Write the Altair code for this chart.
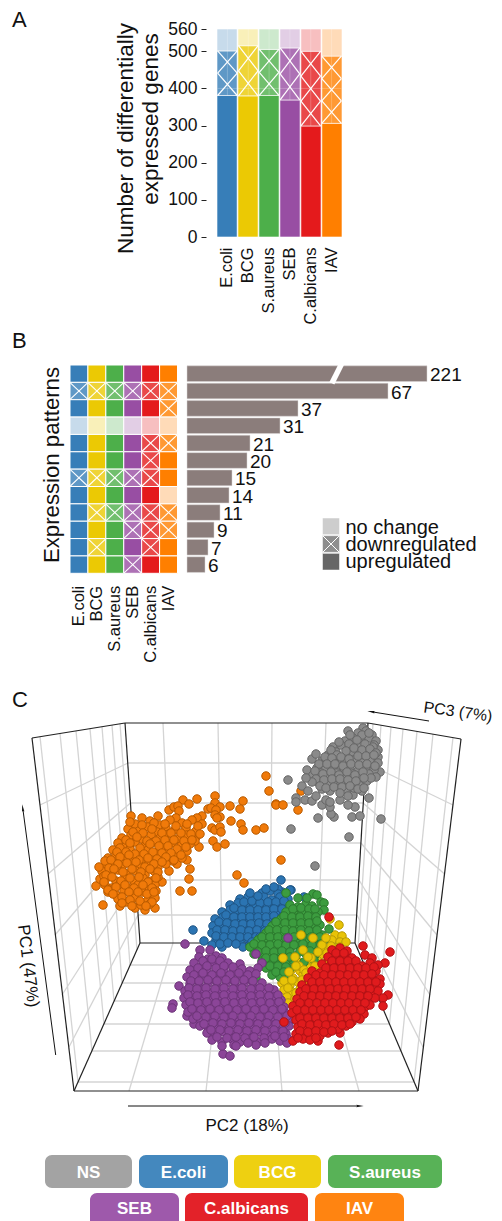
import altair as alt
import pandas as pd

FONT = "Liberation Sans"
CONDITIONS = ["E.coli", "BCG", "S.aureus", "SEB", "C.albicans", "IAV"]
COLORS = ["#377EB8", "#EBC904", "#4DAF4A", "#984EA3", "#E41A1C", "#FF7F00"]

# Panel A
UP = [381, 380, 381, 369, 299, 306]
DOWN = [120, 135, 124, 140, 201, 181]
NOCHANGE = [59, 45, 55, 51, 60, 73]
Y_TICKS = [0, 100, 200, 300, 400, 500, 560]
HATCH_CELLS = [2, 2, 2, 2, 3, 3]

# Panel B
PATTERNS = ["UUUUUU", "DDDDDD", "UUUUUD", "NNNNNN", "UUUUDD", "UUUUDU",
            "DDDDDU", "UUUUUN", "UDDDDD", "UUUDDD", "UDUUDU", "UUUDUU"]
COUNTS = [221, 67, 37, 31, 21, 20, 15, 14, 11, 9, 7, 6]
LEGEND_STATES = ["no change", "downregulated", "upregulated"]
LEGEND_FILLS = ["#CDCDCD", "#8E8E8E", "#666666"]

# Panel C: projected coordinates of the 3D box
BOX = [(32,738,125,723),(125,723,368,723),(368,723,461,739),(32,738,74,1091),(125,723,140,943),
       (368,723,355,943),(461,739,418,1091),(74,1091,418,1091),(74,1091,140,943),(140,943,355,943),(355,943,418,1091)]
GRID = [(163,723,173,943),(218,723,222,943),(272,723,270,943),(326,723,318,943),
        (128,763,366,763),(130.5,803,363,803),(133,843,361,843),(136,880,359,880),(138,915,357,915),
        (128,763,40,805),(130.5,803,48,874),(133,843,55,935),(136,880,62,995),(138,915,69,1047),
        (366,763,453,805),(363,803,444.5,874),(361,843,437,935),(359,880,430,995),(357,915,423,1047),
        (40,736.7,78,1082),(60,733.5,92,1051),(76,730.9,104,1024),(90,728.6,114,1001),(102,726.7,122,983),(112,725.1,130,965),(120,723.8,137,950),
        (453,737.6,414,1082),(433,734,401,1051),(417,731.4,389.5,1024),(403,729,380,1001),(391,727,372,983),(381,725.2,364,965),(373,723.9,358,950),
        (130,965,364,965),(122,983,372,983),(114,1001,380,1001),(104,1024,389.5,1024),(92,1051,401,1051),(78,1082,414,1082),
        (129,1091,173,943),(206,1091,222,943),(282,1091,270,943),(359,1091,318,943)]
ARROWS = [(429,721,373,712),(55.7,1055,23,810),(128,1106,358,1106)]
ARROW_TIPS = [(371,711.7,279),(22.7,808,352),(360,1106,90)]

IAV = [(266,776),(269,791),(276,804),(215,796),(197,799),(183,800),(189,804),(215,803),(243,801),(240,809),(230,806),
(220,807),(208,809),(211,808),(216,810),(215,815),(220,817),(217,818),(202,816),(197,818),(202,824),(231,821),(241,824),(243,830),
(256,830),(264,828),(212,828),(215,830),(220,827),(221,832),(213,841),(217,847),(225,844),(237,875),(244,883),(189,879),(190,869),
(180,891),(192,891),(162,882),(169,871),(155,908),(145,910),(103,905),(96,886),(177,864),(173,861),(187,860),(182,858),(199,847),
(196,837),(131,816),(142,818),(158,816),(169,810),(174,807),(178,806),(179,811),(176,818),(301,791),(298,810),(276,805),(283,805),
(316,776),(281,860),
(135,824),(150,821),(160,825),(170,820),(182,823),(192,820),(128,829),(139,831),(148,827),(157,832),(166,828),(175,830),(186,828),(196,831),
(122,838),(131,835),(142,839),(151,835),(160,838),(169,834),(178,839),(187,835),(195,841),(118,843),(126,846),(135,842),(145,846),(154,842),
(163,847),(172,843),(181,846),(190,844),(113,850),(122,853),(130,849),(139,853),(148,850),(157,854),(166,850),(176,853),(187,851),(108,858),
(116,855),(125,860),(134,856),(143,859),(152,856),(161,860),(170,856),(106,866),(113,863),(122,867),(131,863),(140,866),(149,862),(158,867),
(166,864),(102,871),(110,874),(118,870),(127,874),(136,871),(145,875),(154,871),(100,879),(108,877),(116,881),(125,878),(134,881),(143,878),
(152,881),(158,877),(105,885),(112,888),(120,884),(129,888),(138,885),(147,888),(155,885),(108,892),(116,895),(124,891),(133,895),(142,892),
(150,895),(156,891),(118,899),(126,902),(135,898),(147,901),(155,898),(120,906),(135,908),(141,905),(150,904),(111,890),(104,876),(99,867),(105,861),
(130,822),(142,825),(154,823),(165,824),(176,826),(187,824),(198,826),(133,832),(143,833),(152,829),(162,833),(171,833),(181,833),(191,834),
(200,834),(126,840),(137,837),(147,841),(156,841),(165,840),(174,840),(184,841),(192,840),(120,848),(130,843),(140,848),(150,844),(159,846),
(168,846),(177,849),(186,847),(117,852),(126,852),(135,854),(144,854),(153,852),(162,853),(171,853),(181,855),(111,860),(120,857),(129,855),
(139,860),(148,858),(157,859),(166,857),(174,860),(109,868),(118,864),(127,863),(136,862),(145,867),(154,864),(162,862),(106,875),(114,869),
(123,872),(132,869),(141,872),(150,869),(158,872),(104,882),(112,877),(121,881),(130,878),(139,877),(148,882),(156,878),(108,890),(116,887),
(125,885),(134,888),(143,885),(152,888),(113,894),(122,897),(129,892),(138,892),(147,894),(154,892),(122,903),(130,900),(140,901),(152,902),(132,906),(146,906)]
NS = [(288,780),(291,829),(318,818),(334,817),(331,814),(352,817),(360,816),(355,807),(348,805),(340,800),(369,798),(381,819),(305,800),
(296,798),(296,802),(312,801),(322,805),(330,807),(326,800),(330,802),(302,786),(308,791),(316,796),(307,770),(312,759),(316,754),(348,731),
(363,728),(380,772),(353,795),(360,788),(315,866),(349,837),
(358,733),(366,731),(372,735),(345,741),(353,738),(361,742),(369,738),(376,741),(333,747),(341,745),(350,749),(358,745),(366,749),(374,745),
(378,750),(328,755),(336,752),(345,756),(353,752),(362,756),(370,753),(378,757),(322,761),(330,763),(338,759),(346,763),(354,760),(362,763),
(370,760),(378,763),(317,768),(325,770),(333,766),(341,770),(350,767),(358,771),(366,767),(374,770),(313,775),(321,773),(329,777),(337,773),
(345,777),(353,774),(361,778),(369,774),(376,777),(318,782),(327,784),(335,780),(343,784),(351,781),(359,785),(367,781),(322,789),(330,791),
(338,787),(346,790),(354,788),(362,791),
(350,735),(362,735),(369,733),(339,742),(349,744),(357,740),(365,744),(373,747),(331,750),(337,755),(346,751),(354,748),(362,750),(370,749),
(376,753),(325,757),(332,758),(341,757),(349,759),(358,756),(366,756),(374,755),(319,764),(327,764),(335,764),(343,766),(351,764),(359,765),
(367,764),(375,766),(315,771),(323,774),(331,772),(339,775),(347,772),(355,775),(363,772),(371,778),(316,779),(324,780),(332,779),(340,779),
(348,780),(356,781),(364,778),(320,786),(326,788),(334,787),(342,787),(350,786),(358,789),(312,782),(306,778),(364,788),(340,793),(348,796)]
ECOLI = [(281,880),(193,930),(291,890),(282,892),(204,941),(304,897),(290,890),(278,889),
(262,893),(270,891),(278,894),(240,899),(248,897),(256,900),(264,897),(272,900),(280,897),(288,899),(230,905),(238,903),(246,907),(254,904),
(262,907),(270,904),(278,907),(286,904),(222,912),(230,910),(238,914),(246,911),(254,914),(262,911),(270,914),(278,911),(286,914),(215,919),
(223,917),(231,921),(239,918),(247,921),(255,918),(263,921),(271,918),(279,921),(213,926),(221,928),(229,925),(237,928),(245,925),(253,928),
(261,925),(269,928),(277,925),(212,933),(220,935),(228,932),(236,935),(244,932),(252,935),(260,932),(268,935),(216,940),(224,942),(232,939),
(240,942),(248,939),(256,942),(212,945),(222,947),(243,947),(250,945),
(244,902),(252,901),(260,903),(268,902),(276,902),(284,901),(234,908),(242,910),(250,910),(258,910),(266,910),(274,909),(282,909),(226,915),
(234,917),(242,917),(250,917),(258,917),(266,917),(274,916),(282,917),(219,922),(227,923),(235,924),(243,924),(251,924),(259,923),(267,924),
(275,922),(217,930),(225,930),(233,931),(241,930),(249,931),(257,930),(265,931),(273,931),(216,936),(224,937),(232,937),(240,937),(248,937),
(256,937),(264,938),(220,944),(228,943),(236,944),(252,942),(260,937),(258,896),(266,889),(250,893),(274,887)]
BCG_UNDER = [(330,919),(339,925),(335,935),(342,936),(332,940),(340,942),(346,942),(336,948),(325,948),(333,950),(340,947),(320,955),(328,957),
(335,955),(298,962),(308,964),(318,961),(326,963),(292,969),(300,971),(310,968),(318,970),(285,976),(293,978),(303,975),(312,977),(282,983),
(290,985),(298,982),(308,984),(284,990),(292,992),(300,989),(287,997),(295,999),(288,1003),(296,1005)]
SAUREUS = [(286,893),(313,894),(317,895),(321,902),(324,903),(324,910),(329,929),
(290,905),(298,907),(306,904),(312,906),(286,912),(294,914),(302,911),(310,914),(318,912),(281,919),(289,921),(297,918),(305,921),(313,918),
(272,926),(280,928),(288,925),(296,928),(304,925),(312,928),(320,925),(266,933),(274,935),(282,932),(290,935),(298,932),(306,935),(314,932),
(322,935),(258,940),(266,942),(274,939),(282,942),(290,939),(298,942),(307,939),(316,942),(325,939),(250,947),(258,949),(266,946),(274,949),
(282,946),(290,949),(299,946),(308,949),(317,946),(254,954),(262,956),(270,953),(278,956),(286,953),(296,956),(305,953),(315,955),(262,961),
(270,963),(278,960),(286,963),(293,960),(304,962),(314,960),(266,968),(274,970),(282,967),(290,969),(272,975),(280,977),(288,974),(256,978),
(293,909),(301,908),(309,909),(315,909),(284,916),(292,917),(300,917),(308,916),(316,917),(276,922),(285,923),(293,923),(301,923),(309,923),
(317,921),(269,930),(277,930),(285,930),(293,931),(301,930),(309,931),(317,930),(262,937),(270,937),(278,937),(286,938),(294,937),(302,937),
(311,937),(320,937),(254,944),(262,945),(270,945),(278,944),(286,945),(294,945),(303,944),(312,945),(321,944),(258,952),(266,951),(274,952),
(282,951),(290,952),(300,951),(310,951),(266,958),(274,958),(282,958),(290,957),(270,966),(278,966),(286,967),(276,972),(284,972),(298,898),(307,898)]
BCG_OVER = [(301,935),(313,938),(322,945),(327,953),(303,950),(295,957),(283,958),(299,966),(311,958),(289,972),(304,970),(315,966),(284,981),
(326,938),(331,946),(318,952),(308,957),(296,966),(306,973),(314,972),(292,980),(302,980),(288,988),(296,993)]
SEB = [(179,986),(173,1004),(172,1008),(187,1016),(194,1024),(223,1054),(230,1056),(185,944),(200,950),(210,950),(288,938),(256,954),(262,963),
(199,957),(208,959),(216,956),(222,958),(194,963),(203,965),(212,962),(220,965),(228,963),(240,964),(190,970),(198,972),(207,969),(216,972),
(224,969),(233,972),(242,969),(250,971),(258,968),(187,977),(195,979),(204,976),(213,979),(222,976),(231,979),(240,976),(249,979),(190,984),
(199,986),(208,983),(217,986),(226,983),(235,986),(244,983),(253,986),(262,983),(185,991),(193,993),(202,990),(211,993),(220,990),(229,993),
(238,990),(247,993),(256,990),(265,993),(274,990),(184,998),(192,1000),(201,997),(210,1000),(219,997),(228,1000),(237,997),(246,1000),(255,997),
(264,1000),(273,997),(281,1000),(186,1005),(194,1007),(203,1004),(212,1007),(221,1004),(230,1007),(239,1004),(248,1007),(257,1004),(266,1007),
(275,1004),(284,1007),(188,1012),(197,1014),(206,1011),(215,1014),(224,1011),(233,1014),(242,1011),(251,1014),(260,1011),(269,1014),(278,1011),
(287,1014),(193,1019),(201,1021),(210,1018),(219,1021),(228,1018),(237,1021),(246,1018),(255,1021),(264,1018),(273,1021),(282,1018),(290,1020),
(200,1026),(208,1028),(217,1025),(226,1028),(235,1025),(244,1028),(253,1025),(262,1028),(271,1025),(280,1028),(289,1026),(207,1033),(215,1035),
(224,1032),(233,1035),(242,1032),(251,1035),(260,1032),(268,1035),(278,1032),(286,1034),(212,1040),(222,1042),(232,1039),(240,1042),(250,1039),
(258,1042),(272,1039),(280,1041),(288,1039),(234,1045),(236,1046),(256,1045),(287,1043),
(203,961),(212,959),(220,961),(198,968),(207,966),(216,968),(224,966),(233,967),(194,975),(203,973),(212,975),(221,973),(230,975),(239,973),
(248,975),(256,974),(191,981),(199,981),(208,980),(217,981),(226,980),(235,981),(244,980),(253,981),(189,988),(197,989),(206,988),(215,989),
(224,988),(233,989),(242,988),(251,989),(260,988),(269,988),(188,995),(197,996),(206,995),(215,996),(224,995),(233,996),(242,995),(251,996),
(260,995),(269,996),(278,995),(190,1002),(198,1003),(207,1002),(216,1003),(225,1002),(234,1003),(243,1002),(252,1003),(261,1002),(270,1003),
(279,1002),(192,1009),(201,1010),(210,1009),(219,1010),(228,1009),(237,1010),(246,1009),(255,1010),(264,1009),(273,1010),(282,1009),(197,1016),
(206,1017),(215,1016),(224,1017),(233,1016),(242,1017),(251,1016),(260,1017),(269,1016),(278,1017),(287,1016),(204,1024),(213,1023),(222,1024),
(231,1023),(240,1024),(249,1023),(258,1024),(267,1023),(276,1024),(285,1023),(211,1030),(220,1030),(229,1031),(238,1030),(247,1031),(256,1030),
(265,1031),(274,1030),(283,1031),(217,1037),(227,1038),(236,1037),(245,1038),(254,1037),(264,1038),(275,1036),(284,1037),(248,1043),(265,1043),(222,1046)]
CALB = [(329,917),(363,946),(390,952),(388,995),(383,998),(383,1006),(339,1045),(284,1022),(293,1041),(318,1041),(340,1033),(358,1018),(385,963),
(332,950),(340,948),(347,951),(328,957),(336,959),(344,956),(352,958),(365,955),(372,958),(322,964),(330,966),(338,963),(346,966),(354,963),
(362,966),(370,963),(378,965),(312,971),(320,973),(328,970),(336,973),(344,970),(352,973),(360,970),(368,973),(376,971),(308,978),(316,980),
(324,977),(332,980),(340,977),(348,980),(356,977),(364,980),(372,977),(380,979),(302,985),(310,987),(318,984),(326,987),(334,984),(342,987),
(350,984),(358,987),(366,984),(374,986),(380,984),(300,992),(308,994),(316,991),(324,994),(332,991),(340,994),(348,991),(356,994),(364,991),
(372,993),(378,991),(297,999),(305,1001),(313,998),(321,1001),(329,998),(337,1001),(345,998),(353,1001),(361,998),(369,1000),(375,998),(293,1006),
(301,1008),(309,1005),(317,1008),(325,1005),(333,1008),(341,1005),(349,1008),(357,1005),(365,1007),(370,1005),(292,1013),(300,1015),(308,1012),
(316,1015),(324,1012),(332,1015),(340,1012),(348,1015),(356,1012),(364,1014),(296,1020),(304,1022),(312,1019),(320,1022),(328,1019),(336,1022),
(344,1019),(352,1022),(360,1019),(298,1027),(306,1029),(314,1026),(322,1029),(330,1026),(338,1029),(346,1026),(296,1034),(304,1036),(312,1033),
(320,1036),(328,1033),(303,1039),(310,1040),
(336,953),(344,953),(332,961),(340,961),(348,961),(356,961),(326,968),(334,968),(342,968),(350,968),(358,968),(366,968),(374,967),(316,975),
(324,975),(332,975),(340,975),(348,975),(356,975),(364,975),(372,974),(312,982),(320,982),(328,982),(336,982),(344,982),(352,982),(360,982),
(368,982),(376,982),(306,989),(314,989),(322,989),(330,989),(338,989),(346,989),(354,989),(362,989),(370,989),(304,996),(312,996),(320,996),
(328,996),(336,996),(344,996),(352,996),(360,996),(368,996),(300,1003),(309,1003),(317,1003),(325,1003),(333,1003),(341,1003),(349,1003),(357,1003),
(365,1003),(297,1010),(305,1010),(313,1010),(321,1010),(329,1010),(337,1010),(345,1010),(353,1010),(361,1010),(300,1018),(308,1018),(316,1018),
(324,1018),(332,1018),(340,1018),(348,1018),(356,1017),(302,1024),(310,1025),(318,1024),(326,1025),(334,1024),(342,1025),(350,1024),(300,1031),
(308,1032),(316,1031),(324,1032),(332,1031),(298,1038),(316,1038)]
POINT_GROUPS = [(IAV, "#F07A0A", "#B85A00"), (NS, "#8A8A8A", "#666666"), (ECOLI, "#2B74B2", "#1F5585"),
                (BCG_UNDER, "#E8C307", "#B79A06"), (SAUREUS, "#3C9C3F", "#2C7A2E"), (BCG_OVER, "#E8C307", "#B79A06"),
                (SEB, "#8B4598", "#6D3478"), (CALB, "#E01B1D", "#B01215")]

BADGE_LABELS = ["NS", "E.coli", "BCG", "S.aureus", "SEB", "C.albicans", "IAV"]
BADGE_COLORS = ["#A3A3A3", "#4488BE", "#EED011", "#58B257", "#9E59AB", "#E32229", "#FF8411"]
BADGE_X0 = [45, 139, 234, 328, 90, 185, 315]
BADGE_X1 = [132, 228, 321, 442, 179, 308, 404]
BADGE_Y0 = [1155, 1155, 1155, 1155, 1193, 1193, 1193]
BADGE_Y1 = [1188, 1188, 1188, 1188, 1228, 1228, 1228]

W, H = 486, 1213
CX = alt.Scale(domain=[8, 8 + W], range=[0, W])
CY = alt.Scale(domain=[8, 8 + H], range=[0, H])
layers = []


def txt(s, x, y, size, angle=0, align="center", baseline="middle", weight="normal", color="#111111"):
    return alt.Chart(pd.DataFrame({"t": [s]})).mark_text(
        font=FONT, fontSize=size, angle=angle, align=align, baseline=baseline, fontWeight=weight, color=color
    ).encode(x=alt.value(x - 8), y=alt.value(y - 8), text="t:N")


def segments(rows, x_scale, y_scale, color, width, opacity=1.0):
    df = pd.DataFrame(rows, columns=["x0", "y0", "x1", "y1"])
    return alt.Chart(df).mark_rule(color=color, strokeWidth=width, opacity=opacity).encode(
        x=alt.X("x0:Q", scale=x_scale, axis=None), x2="x1:Q",
        y=alt.Y("y0:Q", scale=y_scale, axis=None), y2="y1:Q")


# ---------- Panel A
rows = []
for name, c, u, d, n in zip(CONDITIONS, COLORS, UP, DOWN, NOCHANGE):
    rows += [dict(name=name, c=c, y0=0, y1=u, op=1.0),
             dict(name=name, c=c, y0=u, y1=u + d, op=0.8),
             dict(name=name, c=c, y0=u + d, y1=u + d + n, op=0.28)]
a_x = alt.Scale(domain=CONDITIONS, range=[209, 334], paddingInner=0.04, paddingOuter=0)
a_y = alt.Scale(domain=[0, 560], range=[229, 21])
layers.append(alt.Chart(pd.DataFrame(rows)).mark_bar(stroke="white", strokeWidth=0.6).encode(
    x=alt.X("name:N", scale=a_x, sort=CONDITIONS, title=None,
            axis=alt.Axis(orient="bottom", offset=229 - H, labelAngle=270, labelAlign="right", labelBaseline="middle",
                          labelFont=FONT, labelFontSize=16.5, labelColor="#111111", labelPadding=10, ticks=False,
                          domain=False, labelLimit=300, labelOverlap=False)),
    y=alt.Y("y0:Q", scale=a_y, title=None,
            axis=alt.Axis(orient="left", offset=-198, values=Y_TICKS, format="d", tickSize=5, tickColor="#222222",
                          domain=False, grid=False, labelFont=FONT, labelFontSize=17.5, labelColor="#111111",
                          labelPadding=4, labelOverlap=False, labelFlush=False)),
    y2="y1:Q", fill=alt.Fill("c:N", scale=None), fillOpacity=alt.FillOpacity("op:Q", scale=None)))
hx = alt.Scale(domain=[0, 6], range=[209, 334])
hatch = []
for i, cells in enumerate(HATCH_CELLS):
    step = DOWN[i] / cells
    for k in range(cells):
        yb = UP[i] + k * step
        hatch += [(i + 0.03, yb, i + 0.97, yb + step), (i + 0.03, yb + step, i + 0.97, yb)]
layers.append(segments(hatch, hx, a_y, "white", 1.2))
layers.append(segments([(0.03, 400, 5.97, 400)], hx, a_y, "white", 1, 0.22))
layers.append(segments([(i + 0.5, UP[i], i + 0.5, 560) for i in range(6)], hx, a_y, "white", 1, 0.22))
layers.append(txt("Number of differentially", 126, 138.5, 22.5, angle=270))
layers.append(txt("expressed genes", 151, 119, 22.5, angle=270))
layers.append(txt("A", 12, 27, 22, align="left", baseline="alphabetic"))

# ---------- Panel B
rows = []
hatch = []
ROW_IDS = list(range(len(PATTERNS)))
for r, p in enumerate(PATTERNS):
    for j, s in enumerate(p):
        rows.append(dict(name=CONDITIONS[j], row=r, c=COLORS[j], op={"U": 1.0, "D": 0.8, "N": 0.28}[s]))
        if s == "D":
            hatch += [(j + 0.02, r + 0.03, j + 0.98, r + 0.97), (j + 0.02, r + 0.97, j + 0.98, r + 0.03)]
b_x = alt.Scale(domain=CONDITIONS, range=[62, 169.5], paddingInner=0, paddingOuter=0)
b_y = alt.Scale(domain=ROW_IDS, range=[357, 565.3], paddingInner=0, paddingOuter=0)
layers.append(alt.Chart(pd.DataFrame(rows)).mark_rect(stroke="white", strokeWidth=1).encode(
    x=alt.X("name:N", scale=b_x, sort=CONDITIONS, title=None,
            axis=alt.Axis(orient="bottom", offset=565.3 - H, labelAngle=270, labelAlign="right", labelBaseline="middle",
                          labelFont=FONT, labelFontSize=16.5, labelColor="#111111", labelPadding=12, ticks=False,
                          domain=False, labelLimit=300, labelOverlap=False)),
    y=alt.Y("row:O", scale=b_y, axis=None),
    fill=alt.Fill("c:N", scale=None), fillOpacity=alt.FillOpacity("op:Q", scale=None)))
layers.append(segments(hatch, alt.Scale(domain=[0, 6], range=[62, 169.5]),
                       alt.Scale(domain=[0, 12], range=[357, 565.3]), "white", 1.1))
bar_df = pd.DataFrame({"row": ROW_IDS, "count": COUNTS})
bar_x = alt.Scale(domain=[0, 67, 221], range=[179, 380, 419])
bar_y = alt.Scale(domain=ROW_IDS, range=[357, 565.3], paddingInner=0.1, paddingOuter=0.05)
layers.append(alt.Chart(bar_df).mark_bar(color="#8B7D7B", stroke="#DAD6D6", strokeWidth=0.5).encode(
    x=alt.X("count:Q", scale=bar_x, axis=None, stack=None), y=alt.Y("row:O", scale=bar_y, axis=None)))
layers.append(alt.Chart(bar_df).mark_text(font=FONT, fontSize=19, align="left", baseline="middle", dx=3, dy=1.5,
                                          color="#111111").encode(
    x=alt.X("count:Q", scale=bar_x, axis=None), y=alt.Y("row:O", scale=bar_y, axis=None), text="count:Q"))
layers.append(segments([(48.3, 1.05, 51.5, -0.05)], bar_x, alt.Scale(domain=[0, 12], range=[357, 565.3]), "white", 5.5))
layers.append(txt("Expression patterns", 52, 465, 22.2, angle=270))
layers.append(txt("B", 12, 348, 22, align="left", baseline="alphabetic"))

leg_y = alt.Scale(domain=LEGEND_STATES, range=[510, 562], paddingInner=0.06, paddingOuter=0)
leg_df = pd.DataFrame({"state": LEGEND_STATES, "c": LEGEND_FILLS})
layers.append(alt.Chart(leg_df).mark_rect(stroke="white", strokeWidth=0.5).encode(
    x=alt.value(314.5), x2=alt.value(331.5), y=alt.Y("state:N", scale=leg_y, sort=LEGEND_STATES, axis=None),
    fill=alt.Fill("c:N", scale=None)))
layers.append(alt.Chart(leg_df).mark_text(font=FONT, fontSize=20, align="left", baseline="middle", color="#111111", dy=1).encode(
    x=alt.value(337.5), y=alt.Y("state:N", scale=leg_y, sort=LEGEND_STATES, axis=None), text="state:N"))
layers.append(segments([(323, 536, 339, 552), (323, 552, 339, 536)], CX, CY, "white", 1))

# ---------- Panel C
layers.append(segments(GRID, CX, CY, "#D4D4D4", 1.3))
layers.append(segments(BOX, CX, CY, "#222222", 1.2))
rows = []
for pts, f, e in POINT_GROUPS:
    rows += [dict(px=x, py=y, f=f, e=e) for x, y in pts]
layers.append(alt.Chart(pd.DataFrame(rows)).mark_circle(size=72, opacity=1, strokeWidth=1).encode(
    x=alt.X("px:Q", scale=CX, axis=None), y=alt.Y("py:Q", scale=CY, axis=None),
    fill=alt.Fill("f:N", scale=None), stroke=alt.Stroke("e:N", scale=None)))
layers.append(segments(ARROWS, CX, CY, "#111111", 1))
tip = pd.DataFrame(ARROW_TIPS, columns=["x", "y", "a"])
layers.append(alt.Chart(tip).mark_point(shape="M0,-1L0.32,1L0,0.75L-0.32,1Z", size=55, filled=True, color="#111111", opacity=1).encode(
    x=alt.X("x:Q", scale=CX, axis=None), y=alt.Y("y:Q", scale=CY, axis=None), angle=alt.Angle("a:Q", scale=None)))
layers.append(txt("PC3 (7%)", 458, 712, 16, angle=8))
layers.append(txt("PC1 (47%)", 28, 966, 17, angle=83))
layers.append(txt("PC2 (18%)", 247, 1126, 17))
layers.append(txt("C", 12, 707, 22, align="left", baseline="alphabetic"))

# ---------- Condition badges
bdf = pd.DataFrame({"label": BADGE_LABELS, "c": BADGE_COLORS, "x0": BADGE_X0, "x1": BADGE_X1, "y0": BADGE_Y0, "y1": BADGE_Y1})
layers.append(alt.Chart(bdf).mark_rect(cornerRadius=7).encode(
    x=alt.X("x0:Q", scale=CX, axis=None), x2="x1:Q", y=alt.Y("y0:Q", scale=CY, axis=None), y2="y1:Q",
    fill=alt.Fill("c:N", scale=None)))
bdf["mx"] = (bdf.x0 + bdf.x1) / 2
bdf["my"] = [1172.5] * 4 + [1208.5] * 3
layers.append(alt.Chart(bdf).mark_text(font=FONT, fontSize=17, fontWeight="bold", color="white", baseline="middle").encode(
    x=alt.X("mx:Q", scale=CX, axis=None), y=alt.Y("my:Q", scale=CY, axis=None), text="label:N"))

chart = alt.layer(*layers).resolve_scale(x="independent", y="independent").properties(
    width=W, height=H, padding=0, autosize=alt.AutoSizeParams(type="none"), background="white"
).configure_view(stroke=None)
chart.save("out.html", embed_options={"renderer": "svg", "actions": False})
